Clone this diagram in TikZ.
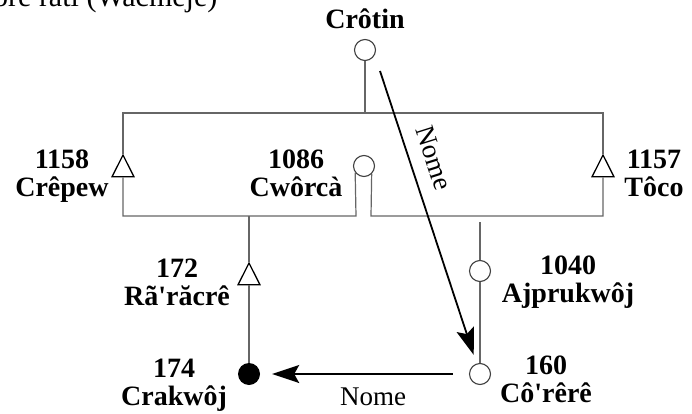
\documentclass[tikz,border=0pt]{standalone}
\usepackage{fontspec}
\setmainfont{Liberation Serif}[Ligatures=TeXOff]
\usetikzlibrary{arrows.meta,shapes.geometric}
\begin{document}
\begin{tikzpicture}[x=1pt,y=-1pt,
  wire/.style={draw=black!60,line width=1.2pt},
  opencirc/.style={circle,draw=black!75,fill=white,line width=1.1pt,minimum size=21pt,inner sep=0pt},
  fullcirc/.style={circle,fill=black,minimum size=22pt,inner sep=0pt},
  opentri/.style={regular polygon,regular polygon sides=3,draw=black,fill=white,line width=1.3pt,minimum size=29pt,inner sep=0pt,xscale=0.87},
  lbl/.style={font=\bfseries\fontsize{28}{28}\selectfont,align=center,anchor=base,inner sep=0pt},
  rel/.style={-{Stealth[length=27pt,width=18pt,inset=5pt]},line width=1.8pt},
  rellabel/.style={font=\fontsize{27}{27}\selectfont,inner sep=0pt}
]
\useasboundingbox (0,0) rectangle (692,414);

% heading line, cut by the top edge
\node[font=\fontsize{30}{30}\selectfont,anchor=base west,inner sep=0pt] (heading) at (-7,7) {ore rati (Wacmeje)};

% people
\node[opencirc] (crotin) at (365,50) {};
\node[opencirc] (cworca) at (364,166) {};
\node[opentri] (crepew) at (123,169.5) {};
\node[opentri] (toco) at (603,169.5) {};
\node[opentri] (raracre) at (249,277.5) {};
\node[opencirc] (ajpru) at (480,271) {};
\node[opencirc] (corere) at (480,374) {};
\node[fullcirc] (crakwoj) at (249,374) {};

% junction points of the kinship lines
\coordinate (topL) at (123,113);
\coordinate (topM) at (365,113);
\coordinate (topR) at (603,113);
\coordinate (botL) at (123,216);
\coordinate (legL) at (356,216);
\coordinate (legR) at (371,216);
\coordinate (botR) at (603,216);
\coordinate (subL) at (249,216);
\coordinate (subR) at (480,222);
\coordinate (diagstart) at (380,71);

% kinship lines
\draw[wire] (crotin) -- (topM);
\draw[wire] (crepew.corner 1) -- (topL) -- (topR) -- (toco.corner 1);
\draw[wire] (crepew.south) -- (botL) -- (legL) -- (cworca.-143);
\draw[wire] (cworca.-46) -- (legR) -- (botR) -- (toco.south);
\draw[wire] (subL) -- (raracre.corner 1);
\draw[wire] (raracre.south) -- (crakwoj);
\draw[wire] (subR) -- (ajpru);
\draw[wire] (ajpru) -- (corere);

% naming relations
\draw[rel,shorten >=9pt] (diagstart) -- (corere);
\node[rellabel,rotate=-72.4] (nomeA) at (434,158) {Nome};
\draw[rel,shorten <=16pt,shorten >=12pt] (corere) -- (crakwoj);
\node[rellabel,anchor=base] (nomeB) at (373,405) {Nome};

% names (anchored on the baseline of the lower line)
\node[lbl] (lcrotin) at (365,29) {Crôtin};
\node[lbl] (l1158) at (62,196) {1158\\Crêpew};
\node[lbl] (l1086) at (296,196) {1086\\Cwôrcà};
\node[lbl] (l1157) at (654,196) {1157\\Tôco};
\node[lbl] (l172) at (177,305) {172\\Rã'răcrê};
\node[lbl] (l174) at (174,405) {174\\Crakwôj};
\node[lbl] (l1040) at (568,302) {1040\\Ajprukwôj};
\node[lbl] (l160) at (546,402) {160\\Cô'rêrê};
\end{tikzpicture}
\end{document}
